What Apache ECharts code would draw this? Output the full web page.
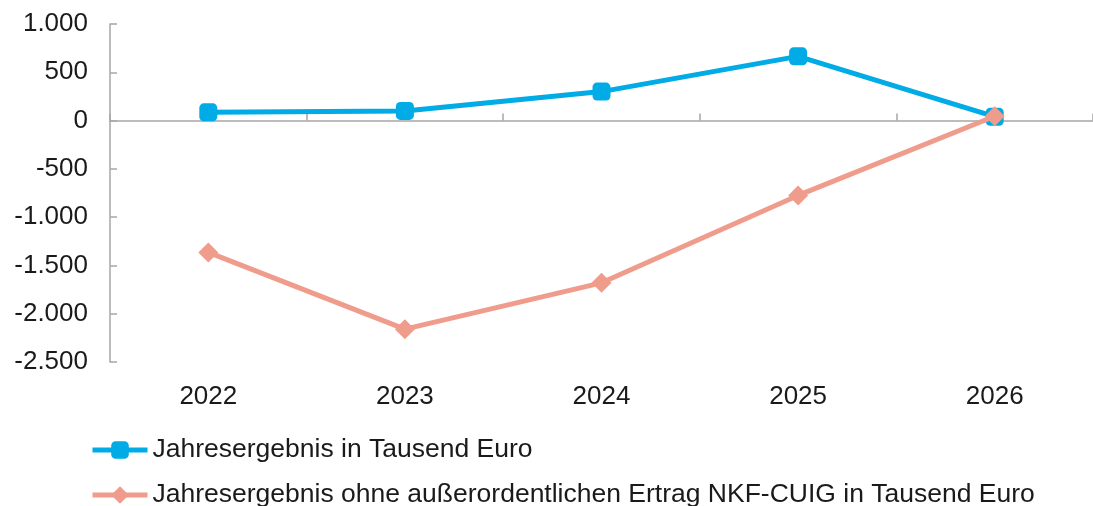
<!DOCTYPE html>
<html>
<head>
<meta charset="utf-8">
<script src="https://cdn.jsdelivr.net/npm/echarts@6/dist/echarts.min.js"></script>
<style>
  html, body { margin: 0; padding: 0; background: #ffffff; }
  #chart { width: 1093px; height: 506px; }
</style>
</head>
<body>
<div id="chart"></div>
<script>
// Jahre
const years = ['2022', '2023', '2024', '2025', '2026'];
// Jahresergebnis in Tausend Euro
const ergebnis = [85, 100, 300, 665, 40];
// Jahresergebnis ohne außerordentlichen Ertrag NKF-CUIG in Tausend Euro
const ergebnisOhneNkf = [-1365, -2160, -1680, -775, 45];

const seriesNames = [
  'Jahresergebnis in Tausend Euro',
  'Jahresergebnis ohne außerordentlichen Ertrag NKF-CUIG in Tausend Euro'
];

const yMin = -2500, yMax = 1000, yStep = 500;

// German number format: dot as thousands separator
function fmt(v) {
  const s = Math.abs(v).toString().replace(/\B(?=(\d{3})+(?!\d))/g, '.');
  return (v < 0 ? '-' : '') + s;
}

const font = '"Liberation Sans", Arial, sans-serif';
const textColor = '#1a1a1a';
const axisGray = '#a6a6a6';
const blue = '#00abe6';
const salmon = '#f09c8c';

// one single-row legend per series, stacked below the plot
function legendRow(name, top) {
  return {
    orient: 'horizontal',
    left: 90,
    top: top,
    padding: 0,
    itemWidth: 55,
    itemHeight: 22,
    lineStyle: { width: 5 },
    textStyle: { fontFamily: font, fontSize: 26.5, color: textColor, lineHeight: 28 },
    data: [name]
  };
}

const chart = echarts.init(document.getElementById('chart'), null, { renderer: 'canvas' });
chart.setOption({
  animation: false,
  backgroundColor: '#ffffff',
  grid: { left: 110, right: -6, top: 24, bottom: 144 },
  legend: [
    legendRow(seriesNames[0], 436),
    legendRow(seriesNames[1], 481)
  ],
  xAxis: [
    {
      // axis line through zero, ticks between categories
      type: 'category',
      data: years,
      position: 'bottom',
      axisLine: { onZero: true, lineStyle: { color: axisGray, width: 1.5 } },
      axisTick: { show: true, inside: true, length: 7, lineStyle: { color: axisGray, width: 1.5 } },
      axisLabel: { show: false },
      splitLine: { show: false }
    },
    {
      // year labels below the plot
      type: 'category',
      data: years,
      position: 'bottom',
      axisLine: { show: false, onZero: false },
      axisTick: { show: false },
      axisLabel: { fontFamily: font, fontSize: 26, color: textColor, margin: 22 },
      splitLine: { show: false }
    }
  ],
  yAxis: {
    type: 'value',
    min: yMin,
    max: yMax,
    interval: yStep,
    axisLine: { show: true, lineStyle: { color: axisGray, width: 1.5 } },
    axisTick: { show: true, inside: true, length: 7, lineStyle: { color: axisGray, width: 1.5 } },
    axisLabel: { fontFamily: font, fontSize: 26, color: textColor, margin: 22, formatter: fmt },
    splitLine: { show: false }
  },
  series: [
    {
      name: seriesNames[0],
      type: 'line',
      xAxisIndex: 0,
      data: ergebnis,
      symbol: 'roundRect',
      symbolSize: 18,
      lineStyle: { color: blue, width: 5 },
      itemStyle: { color: blue },
      z: 2
    },
    {
      name: seriesNames[1],
      type: 'line',
      xAxisIndex: 0,
      data: ergebnisOhneNkf,
      symbol: 'diamond',
      symbolSize: 20,
      lineStyle: { color: salmon, width: 5 },
      itemStyle: { color: salmon },
      z: 3
    }
  ]
});
</script>
</body>
</html>
